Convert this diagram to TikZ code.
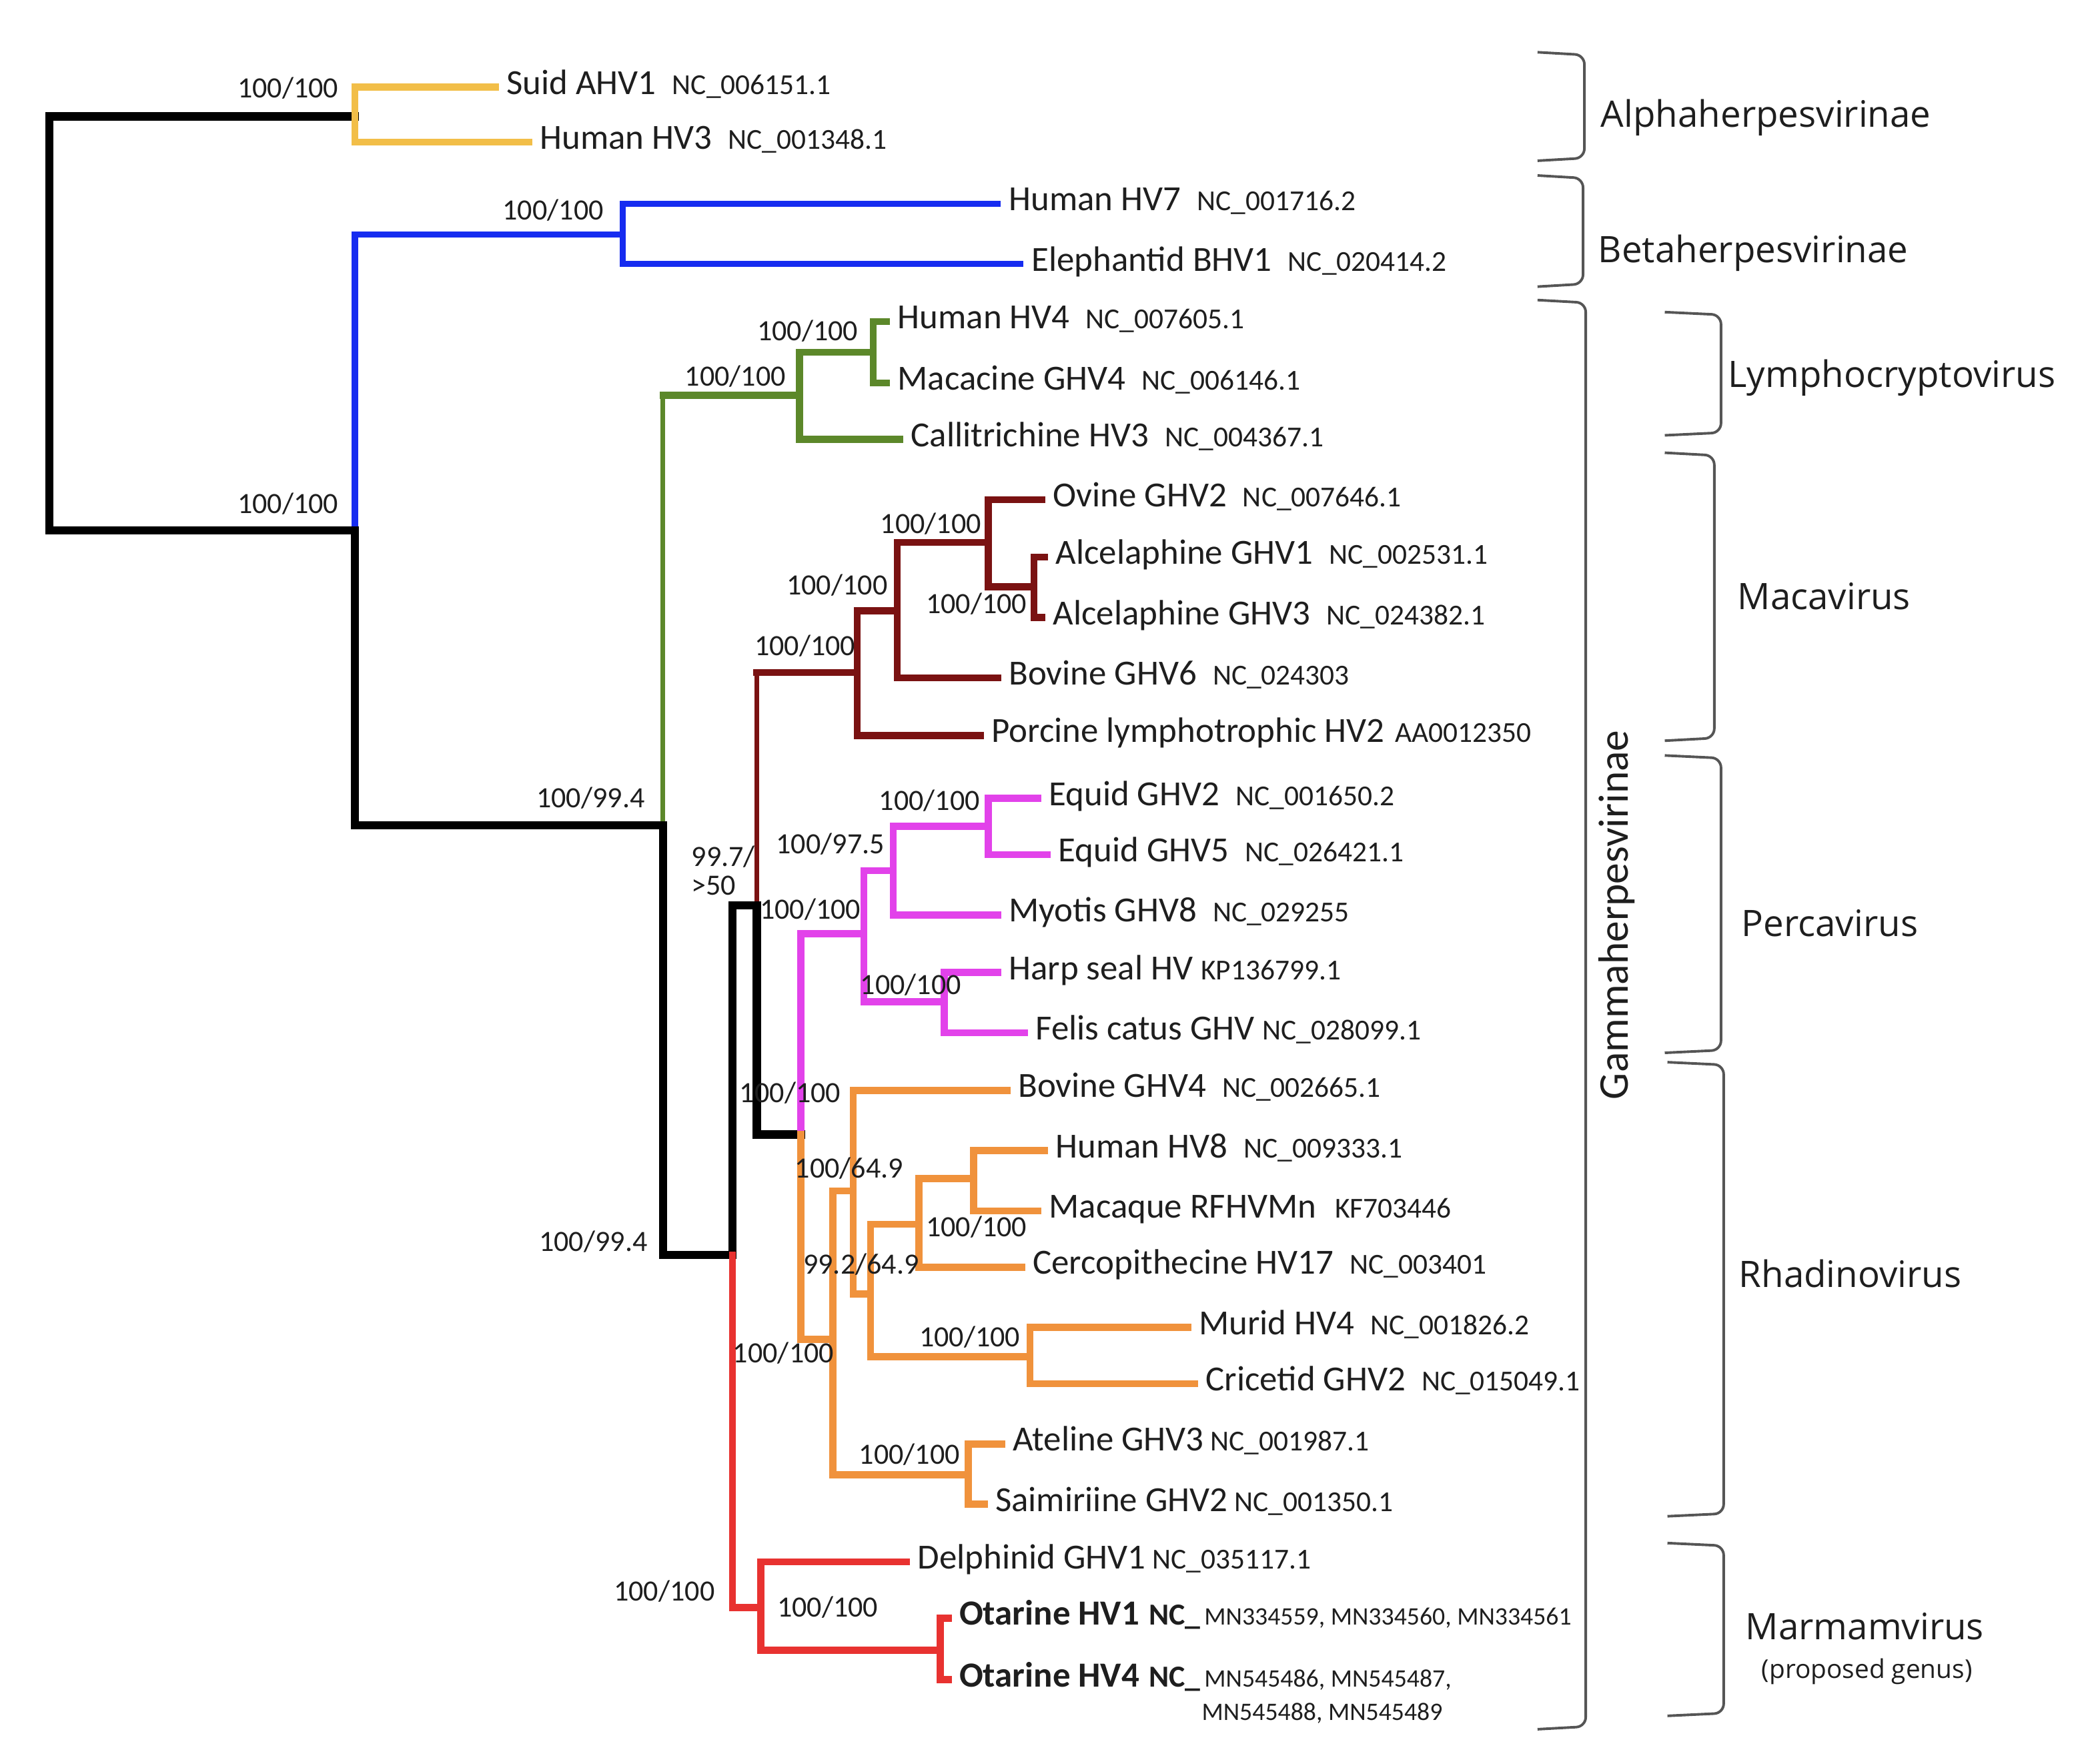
\documentclass[tikz,border=0pt]{standalone}
\usepackage{fontspec}
\setmainfont{Carlito}
\newfontfamily\cladefont{Open Sans}
\usetikzlibrary{positioning}

\definecolor{alphacol}{RGB}{242,190,72}
\definecolor{betacol}{RGB}{22,44,240}
\definecolor{lymcol}{RGB}{92,136,42}
\definecolor{maccol}{RGB}{122,18,18}
\definecolor{percol}{RGB}{226,66,234}
\definecolor{rhacol}{RGB}{240,146,60}
\definecolor{marcol}{RGB}{232,50,48}
\definecolor{bracecol}{RGB}{85,85,85}
\definecolor{txtcol}{RGB}{30,30,30}

\newcommand{\accfont}{\fontsize{12.3}{14}\selectfont}
\newcommand{\mnfont}{\fontsize{10.7}{13}\selectfont}
\newcommand{\acc}[2][0.24cm]{\hspace{#1}{\accfont #2}}

\tikzset{
  branch/.style={line width=3pt, line cap=rect},
  blk/.style={branch, line width=3.5pt, black},
  yel/.style={branch, alphacol},
  blu/.style={branch, line width=2.6pt, betacol},
  grn/.style={branch, lymcol},
  dred/.style={branch, maccol},
  mag/.style={branch, percol},
  org/.style={branch, rhacol},
  redb/.style={branch, marcol},
  stem/.style={line width=1.9pt},
  leaf/.style={anchor=west, inner xsep=4.5pt, inner ysep=0pt, text height=0.6em, text depth=0pt,
    font=\fontsize{15}{18}\selectfont, text=txtcol},
  bs/.style={inner sep=0pt, font=\fontsize{12.5}{14}\selectfont, text=txtcol},
  brace/.style={bracecol, line width=1.1pt, rounded corners=4pt},
  clade/.style={anchor=west, inner sep=0pt, font=\cladefont\fontsize{15.5}{18}\selectfont, text=txtcol},
}

\begin{document}
\begin{tikzpicture}[x=0.02cm, y=-0.02cm]
\useasboundingbox (0,0) rectangle (1568,1315);

% internal nodes
\coordinate (root) at (37,240);
\coordinate (alpha) at (265,87);
\coordinate (n1) at (265,396);
\coordinate (beta) at (465,175);
\coordinate (n2) at (495,616);
\coordinate (lym) at (597,295);
\coordinate (lym2) at (652,263);
\coordinate (n3) at (547,937);
\coordinate (n4) at (565,676);
\coordinate (mac) at (640,502);
\coordinate (mac2) at (670,456);
\coordinate (mac3) at (738,405);
\coordinate (mac4) at (772,438);
\coordinate (n5) at (598,847);
\coordinate (per) at (645,697);
\coordinate (per2) at (667,650);
\coordinate (per3) at (738,617);
\coordinate (per4) at (705,748);
\coordinate (rha) at (622,1000);
\coordinate (rha2) at (637,889);
\coordinate (rha3) at (650,966);
\coordinate (rha4) at (686,914);
\coordinate (rha5) at (727,880);
\coordinate (rha6) at (769,1013);
\coordinate (rha7) at (723,1101);
\coordinate (mar) at (568,1200);
\coordinate (mar2) at (702,1232);

% leaves
\node[leaf] (suid) at (370,65) {Suid AHV1\acc{NC\_006151.1}};
\node[leaf] (hv3) at (395,106) {Human HV3\acc{NC\_001348.1}};
\node[leaf] (hv7) at (745,152) {Human HV7\acc{NC\_001716.2}};
\node[leaf] (eleph) at (762,197) {Elephantid BHV1\acc{NC\_020414.2}};
\node[leaf] (hv4) at (662,240) {Human HV4\acc{NC\_007605.1}};
\node[leaf] (macacine) at (662,286) {Macacine GHV4\acc{NC\_006146.1}};
\node[leaf] (callit) at (672,328) {Callitrichine HV3\acc{NC\_004367.1}};
\node[leaf] (ovine) at (778,373) {Ovine GHV2\acc{NC\_007646.1}};
\node[leaf] (alc1) at (780,416) {Alcelaphine GHV1\acc{NC\_002531.1}};
\node[leaf] (alc3) at (778,461) {Alcelaphine GHV3\acc{NC\_024382.1}};
\node[leaf] (bov6) at (745,506) {Bovine GHV6\acc{NC\_024303}};
\node[leaf] (porcine) at (732,549) {Porcine lymphotrophic HV2\acc[0.16cm]{AA0012350}};
\node[leaf] (equid2) at (775,596) {Equid GHV2\acc{NC\_001650.2}};
\node[leaf] (equid5) at (782,638) {Equid GHV5\acc{NC\_026421.1}};
\node[leaf] (myotis) at (745,683) {Myotis GHV8\acc{NC\_029255}};
\node[leaf] (harp) at (745,726) {Harp seal HV\acc[0.12cm]{KP136799.1}};
\node[leaf] (felis) at (765,771) {Felis catus GHV\acc[0.12cm]{NC\_028099.1}};
\node[leaf] (bov4) at (752,814) {Bovine GHV4\acc{NC\_002665.1}};
\node[leaf] (hv8) at (780,859) {Human HV8\acc{NC\_009333.1}};
\node[leaf] (macaque) at (775,904) {Macaque RFHVMn\acc[0.28cm]{KF703446}};
\node[leaf] (cercop) at (763,946) {Cercopithecine HV17\acc{NC\_003401}};
\node[leaf] (murid) at (887,991) {Murid HV4\acc{NC\_001826.2}};
\node[leaf] (cricetid) at (892,1033) {Cricetid GHV2\acc{NC\_015049.1}};
\node[leaf] (ateline) at (748,1078) {Ateline GHV3\acc[0.1cm]{NC\_001987.1}};
\node[leaf] (saimiri) at (735,1123) {Saimiriine GHV2\acc[0.1cm]{NC\_001350.1}};
\node[leaf] (delph) at (677,1166) {Delphinid GHV1\acc[0.1cm]{NC\_035117.1}};
\node[leaf] (otar1) at (708,1208) {\bfseries Otarine HV1\hspace{0.14cm}{\fontsize{13}{15}\selectfont NC\_}\hspace{0.06cm}{\mdseries\mnfont MN334559, MN334560, MN334561}};
\node[leaf] (otar4) at (708,1254) {\bfseries Otarine HV4\hspace{0.14cm}{\fontsize{13}{15}\selectfont NC\_}\hspace{0.06cm}{\mdseries\mnfont MN545486, MN545487,}};
\node[anchor=west, inner sep=0pt, font=\mnfont, text=txtcol] (otar4b) at (897,1279) {MN545488, MN545489};

% branches
\draw[blk] (root) |- (alpha);
\draw[blk] (root) |- (n1);
\draw[yel] (alpha) |- (suid);
\draw[yel] (alpha) |- (hv3);
\draw[blu] (n1) |- (beta);
\draw[blu] (beta) |- (hv7);
\draw[blu] (beta) |- (eleph);
\draw[blk] (n1) |- (n2);
\draw[grn, stem] (n2) -- (n2 |- lym);
\draw[grn] (n2 |- lym) -- (lym);
\draw[grn] (lym) |- (lym2);
\draw[grn] (lym) |- (callit);
\draw[grn] (lym2) |- (hv4);
\draw[grn] (lym2) |- (macacine);
\draw[blk] (n2) |- (n3);
\draw[blk] (n3) |- (n4);
\draw[dred, stem] (n4) -- (n4 |- mac);
\draw[dred] (n4 |- mac) -- (mac);
\draw[dred] (mac) |- (mac2);
\draw[dred] (mac) |- (porcine);
\draw[dred] (mac2) |- (mac3);
\draw[dred] (mac2) |- (bov6);
\draw[dred] (mac3) |- (ovine);
\draw[dred] (mac3) |- (mac4);
\draw[dred] (mac4) |- (alc1);
\draw[dred] (mac4) |- (alc3);
\draw[blk] (n4) |- (n5);
\draw[mag] (n5) |- (per);
\draw[mag] (per) |- (per2);
\draw[mag] (per) |- (per4);
\draw[mag] (per2) |- (per3);
\draw[mag] (per2) |- (myotis);
\draw[mag] (per3) |- (equid2);
\draw[mag] (per3) |- (equid5);
\draw[mag] (per4) |- (harp);
\draw[mag] (per4) |- (felis);
\draw[org] (n5) |- (rha);
\draw[org] (rha) |- (rha2);
\draw[org] (rha) |- (rha7);
\draw[org] (rha2) |- (bov4);
\draw[org] (rha2) |- (rha3);
\draw[org] (rha3) |- (rha4);
\draw[org] (rha3) |- (rha6);
\draw[org] (rha4) |- (rha5);
\draw[org] (rha4) |- (cercop);
\draw[org] (rha5) |- (hv8);
\draw[org] (rha5) |- (macaque);
\draw[org] (rha6) |- (murid);
\draw[org] (rha6) |- (cricetid);
\draw[org] (rha7) |- (ateline);
\draw[org] (rha7) |- (saimiri);
\draw[redb] (n3) |- (mar);
\draw[redb] (mar) |- (delph);
\draw[redb] (mar) |- (mar2);
\draw[redb] (mar2) |- (otar1);
\draw[redb] (mar2) |- (otar4);

% support values
\node[bs] (bsalpha) at (215,66) {100/100};
\node[bs] (bsbeta) at (413,157) {100/100};
\node[bs] (bsn1) at (215,376) {100/100};
\node[bs] (bsn2) at (441,596) {100/99.4};
\node[bs] (bslym) at (549,281) {100/100};
\node[bs] (bslym2) at (603,247) {100/100};
\node[bs] (bsn3) at (443,927) {100/99.4};
\node[bs, anchor=west, align=left] (bsn4) at (516,650) {99.7/\\[-2pt]>50};
\node[bs] (bsmac) at (601,482) {100/100};
\node[bs] (bsmac2) at (625,437) {100/100};
\node[bs] (bsmac3) at (695,391) {100/100};
\node[bs] (bsmac4) at (729,451) {100/100};
\node[bs] (bsn5) at (590,816) {100/100};
\node[bs] (bsper) at (605,679) {100/100};
\node[bs] (bsper2) at (620,630) {100/97.5};
\node[bs] (bsper3) at (694,598) {100/100};
\node[bs] (bsper4) at (680,735) {100/100};
\node[bs] (bsrha) at (585,1010) {100/100};
\node[bs] (bsrha2) at (634,872) {100/64.9};
\node[bs] (bsrha3) at (643,944) {99.2/64.9};
\node[bs] (bsrha4) at (729,916) {100/100};
\node[bs] (bsrha6) at (724,998) {100/100};
\node[bs] (bsrha7) at (679,1086) {100/100};
\node[bs] (bsmar) at (496,1188) {100/100};
\node[bs] (bsmar2) at (618,1200) {100/100};

% clade brackets
\draw[brace] (1148,39) -- (1183,41) -- (1183,118) -- (1148,120);
\draw[brace] (1148,131) -- (1182,133) -- (1182,212) -- (1148,214);
\draw[brace] (1148,224) -- (1184,226) -- (1184,1289) -- (1148,1291);
\draw[brace] (1243,233) -- (1285,235) -- (1285,323) -- (1243,325);
\draw[brace] (1243,338) -- (1280,340) -- (1280,551) -- (1243,553);
\draw[brace] (1243,564) -- (1285,566) -- (1285,784) -- (1243,786);
\draw[brace] (1245,793) -- (1287,795) -- (1287,1130) -- (1245,1132);
\draw[brace] (1245,1152) -- (1287,1154) -- (1287,1279) -- (1245,1281);

\node[clade] (alphalab) at (1195,88) {Alphaherpesvirinae};
\node[clade] (betalab) at (1193,189) {Betaherpesvirinae};
\node[inner sep=0pt, rotate=90, font=\fontsize{18}{20}\selectfont, text=txtcol] (gammalab) at (1207,683) {Gammaherpesvirinae};
\node[clade] (lymlab) at (1290,282) {Lymphocryptovirus};
\node[clade] (maclab) at (1297,445) {Macavirus};
\node[clade] (perlab) at (1300,689) {Percavirus};
\node[clade] (rhalab) at (1298,951) {Rhadinovirus};
\node[clade] (marlab) at (1303,1214) {Marmamvirus};
\node[inner sep=0pt, font=\cladefont\fontsize{11}{13}\selectfont, text=txtcol] (marsub) at (1394,1248) {(proposed genus)};

\end{tikzpicture}
\end{document}
